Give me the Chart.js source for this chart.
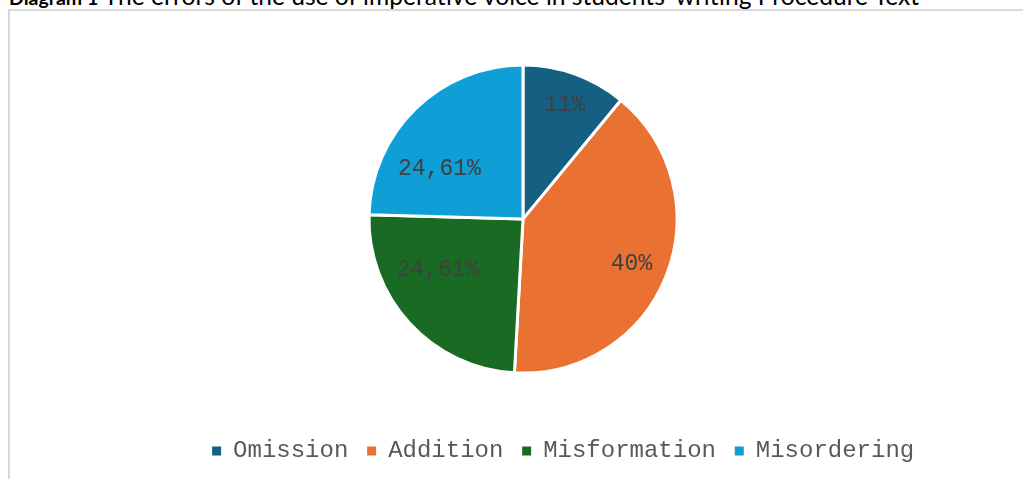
<!DOCTYPE html>
<html>
<head>
<meta charset="utf-8">
<script src="https://cdn.jsdelivr.net/npm/chart.js@4"></script>
<style>
  body { margin: 0; background: #fff; width: 1023px; height: 479px; overflow: hidden; position: relative; }
  #title { position: absolute; left: 9px; top: -16px; line-height: 24px; font-family: Lato, "Open Sans", sans-serif; font-size: 24.6px; white-space: nowrap; color: #000; }
  #title b { font-size: 19.5px; }
  #frame { position: absolute; left: 8px; top: 9px; width: 1100px; height: 600px; border-left: 2px solid #d9d9d9; border-top: 2px solid #d9d9d9; }
  #mycanvas { position: absolute; left: 113px; top: 18px; }
</style>
</head>
<body>
<div id="title"><b>Diagram 1</b> The errors of the use of imperative voice in students' writing Procedure Text</div>
<div id="frame"></div>
<canvas id="mycanvas" width="820" height="455"></canvas>
<script>
const categories = ['Omission', 'Addition', 'Misformation', 'Misordering'];
const percentages = [11, 40, 24.61, 24.61];
const sliceColors = ['#156082', '#E97132', '#196B24', '#0F9ED5'];

const monoFont = '"Liberation Mono", "Courier New", monospace';

// labels like excel "inside end": wide ones are hooked by their inner corner
const pieLabels = {
  id: 'pieLabels',
  afterDatasetsDraw(chart) {
    const ctx = chart.ctx;
    const meta = chart.getDatasetMeta(0);
    ctx.save();
    ctx.font = '23px ' + monoFont;
    ctx.fillStyle = '#404040';
    ctx.textAlign = 'center';
    ctx.textBaseline = 'middle';
    meta.data.forEach((arc, i) => {
      const p = arc.getProps(['x', 'y', 'startAngle', 'endAngle', 'outerRadius'], true);
      const mid = (p.startAngle + p.endAngle) / 2;
      const ux = Math.cos(mid), uy = Math.sin(mid);
      const text = String(percentages[i]).replace('.', ',') + '%';
      const hw = ctx.measureText(text).width / 2, hh = 8.5;
      const sx = ux < 0 ? -1 : 1, sy = uy < 0 ? -1 : 1;
      const wide = hw > 30;
      const limit = p.outerRadius - 15;
      let cx = 0, cy = 0;
      for (let t = 0; t < limit; t += 0.5) {
        const nx = t * ux + (wide ? sx * hw : 0);
        const ny = t * uy + (wide ? sy * hh : 0);
        if (Math.hypot(nx + sx * hw, ny + sy * hh) > limit) break;
        cx = nx; cy = ny;
      }
      ctx.fillText(text, p.x + cx, p.y + cy + 2);
    });
    ctx.restore();
  }
};

const baseLabels = (Chart.overrides.pie || Chart.controllers.doughnut.overrides).plugins.legend.labels.generateLabels;

var ctx = document.getElementById('mycanvas');
var pieChart = new Chart(ctx, {
  type: 'pie',
  data: {
    labels: categories,
    datasets: [{
      data: percentages,
      backgroundColor: sliceColors,
      borderColor: '#ffffff',
      borderWidth: 3,
      radius: 154
    }]
  },
  options: {
    responsive: false,
    animation: false,
    events: [],
    layout: { padding: 0 },
    plugins: {
      tooltip: { enabled: false },
      legend: {
        position: 'bottom',
        align: 'end',
        labels: {
          boxWidth: 9,
          boxHeight: 9,
          padding: 18.8,
          color: '#595959',
          font: { family: monoFont, size: 24 },
          generateLabels(chart) {
            return baseLabels(chart).map(l => Object.assign(l, { lineWidth: 0 }));
          }
        }
      }
    }
  },
  plugins: [pieLabels]
});
</script>
</body>
</html>
